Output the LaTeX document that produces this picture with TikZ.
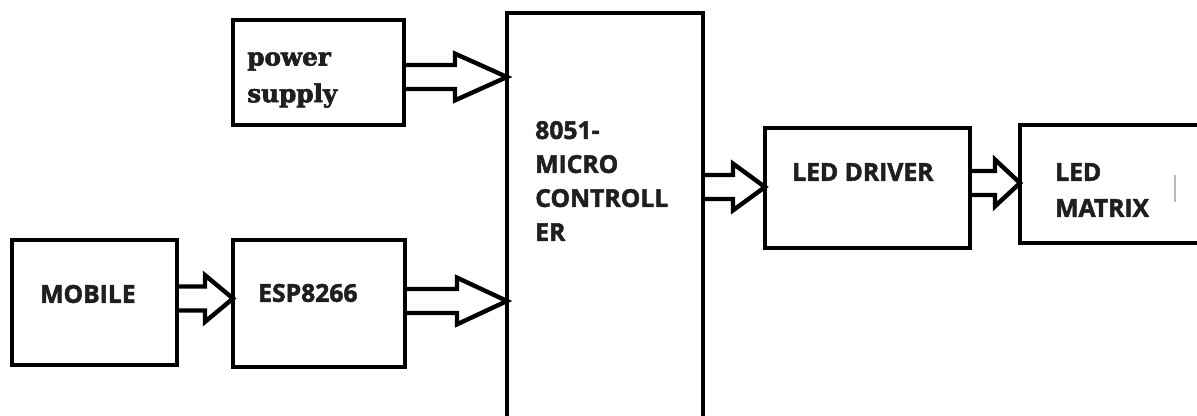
\documentclass[tikz,border=0pt]{standalone}
\usepackage{fontspec}
\usepackage{tikz}
\usetikzlibrary{calc}
\newfontfamily\sansblk{Open Sans}[BoldFeatures={FakeBold=2}]
\newfontfamily\serifblk{DejaVu Serif}[BoldFeatures={FakeBold=2.5}]

% hollow block arrow: from node, to node, y (px), head length (px)
\newcommand{\hollowarr}[4]{%
  \draw[harr] let \p1=(#1.east), \p2=(#2.west), \p3=(0,#3) in
    (\x1,\y3+9pt) -- (\x2-#4*0.75pt,\y3+9pt) -- (\x2-#4*0.75pt,\y3+17.5pt)
    -- (\x2,\y3) -- (\x2-#4*0.75pt,\y3-17.5pt) -- (\x2-#4*0.75pt,\y3-9pt)
    -- (\x1,\y3-9pt);}

\begin{document}
\begin{tikzpicture}[
  x=0.75pt, y=-0.75pt,
  blk/.style = {draw, line width=3.5pt, inner sep=0pt, outer sep=0pt},
  lbl/.style = {anchor=west, align=left, inner sep=0pt, text=black!88,
                font=\sansblk\bfseries\fontsize{18.5}{25.5}\selectfont},
  harr/.style = {line width=3.3pt}
]
\useasboundingbox (0,0) rectangle (1197,416);
\clip (0,0) rectangle (1197,416);

\node[blk, minimum width=128.25pt, minimum height=78.75pt] (supply) at (318.5,72.5) {};
\node[blk, minimum width=147pt, minimum height=312.75pt] (mcu) at (605,221.5) {};
\node[blk, minimum width=123.75pt, minimum height=93.75pt] (mobile) at (94.5,302.5) {};
\node[blk, minimum width=129pt, minimum height=95.25pt] (esp) at (319,303.5) {};
\node[blk, minimum width=153.75pt, minimum height=90pt] (driver) at (867.5,188) {};
\node[blk, minimum width=142.5pt, minimum height=88.5pt] (matrix) at (1115,184) {};

\node[lbl, font=\serifblk\bfseries\fontsize{18.5}{27.5}\selectfont] (supplyt) at (247,80) {power\\supply};
\node[lbl] (mobilet) at (40,294) {MOBILE};
\node[lbl] (espt) at (258,293) {ESP8266};
\node[lbl] (mcut) at (535,181) {8051-\\MICRO\\CONTROLL\\ER};
\node[lbl] (drivert) at (792,172) {LED DRIVER};
\node[lbl, font=\sansblk\bfseries\fontsize{18.5}{27}\selectfont] (matrixt) at (1055,190) {LED\\MATRIX};

\hollowarr{supply}{mcu}{77}{52}
\hollowarr{mobile}{esp}{298.5}{28}
\hollowarr{esp}{mcu}{301}{50}
\hollowarr{mcu}{driver}{187}{32}
\hollowarr{driver}{matrix}{183}{25}

\draw[gray!55, line width=1.2pt] (1175,175) -- (1175,202);
\end{tikzpicture}
\end{document}
